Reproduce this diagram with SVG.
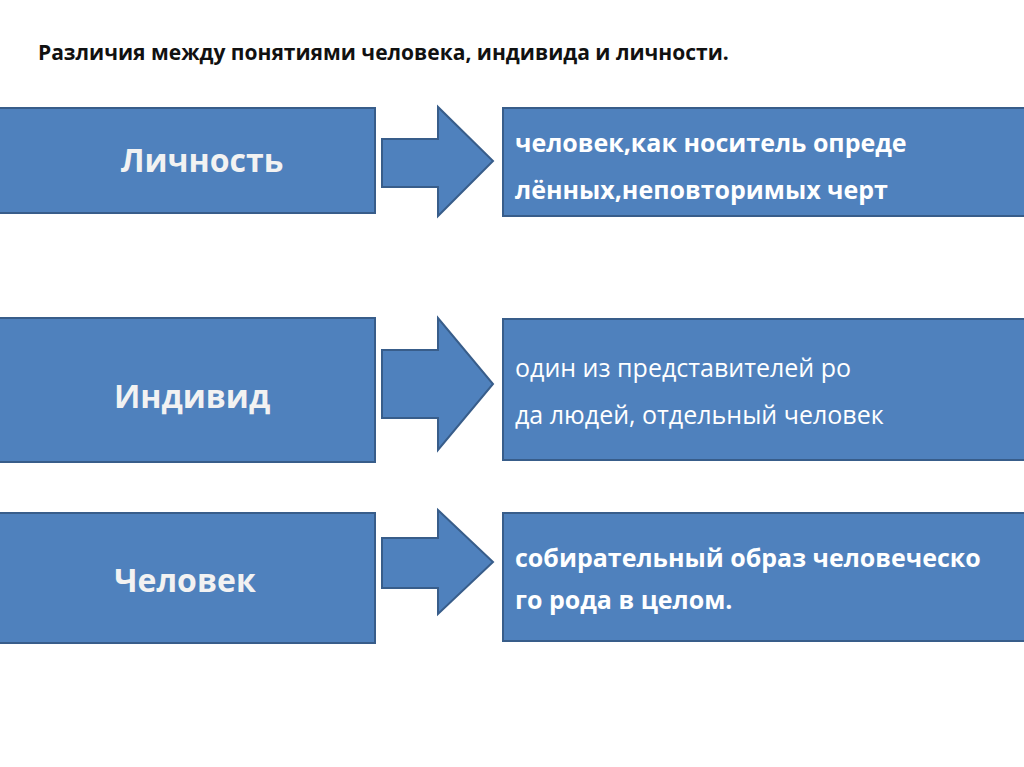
<svg xmlns="http://www.w3.org/2000/svg" width="1024" height="767" viewBox="0 0 1024 767">
<style>
.b{fill:#4f81bd;stroke:#385d8a;stroke-width:2}
.l{font-family:"Open Sans","Liberation Sans",sans-serif;font-weight:bold;font-size:32px;fill:#f2f2f2;text-anchor:middle}
.r{font-family:"Open Sans","Liberation Sans",sans-serif;font-size:25px;fill:#ffffff}
.t{font-family:"Open Sans","Liberation Sans",sans-serif;font-weight:bold;font-size:21px;fill:#111}
</style>
<rect width="1024" height="767" fill="#fff"/>
<text class="t" x="38" y="60">Различия между понятиями человека, индивида и личности.</text>
<g id="n1"><rect class="b" x="-2" y="108" width="377" height="105"/><text class="l" x="202" y="172">Личность</text></g>
<g id="n2"><rect class="b" x="-2" y="318" width="377" height="144"/><text class="l" x="192" y="408">Индивид</text></g>
<g id="n3"><rect class="b" x="-2" y="513" width="377" height="130"/><text class="l" x="185" y="592">Человек</text></g>
<g id="r1"><rect class="b" x="503" y="108" width="530" height="108"/><text class="r" font-weight="bold"><tspan x="515" y="152">человек,как носитель опреде</tspan><tspan x="515" y="199">лённых,неповторимых черт</tspan></text></g>
<g id="r2"><rect class="b" x="503" y="319" width="530" height="141"/><text class="r"><tspan x="515" y="377">один из представителей ро</tspan><tspan x="515" y="424">да людей, отдельный человек</tspan></text></g>
<g id="r3"><rect class="b" x="503" y="513" width="530" height="128"/><text class="r" font-weight="bold" font-size="23"><tspan x="515" y="567">собирательный образ человеческо</tspan><tspan x="515" y="609">го рода в целом.</tspan></text></g>
<g id="connectors">
<polygon class="b" points="382,139 438,139 438,107 493,161 438,216 438,187 382,187"/>
<polygon class="b" points="382,350 438,350 438,318 493,384 438,450 438,418 382,418"/>
<polygon class="b" points="382,538 438,538 438,510 493,562 438,614 438,588 382,588"/>
</g>
</svg>
